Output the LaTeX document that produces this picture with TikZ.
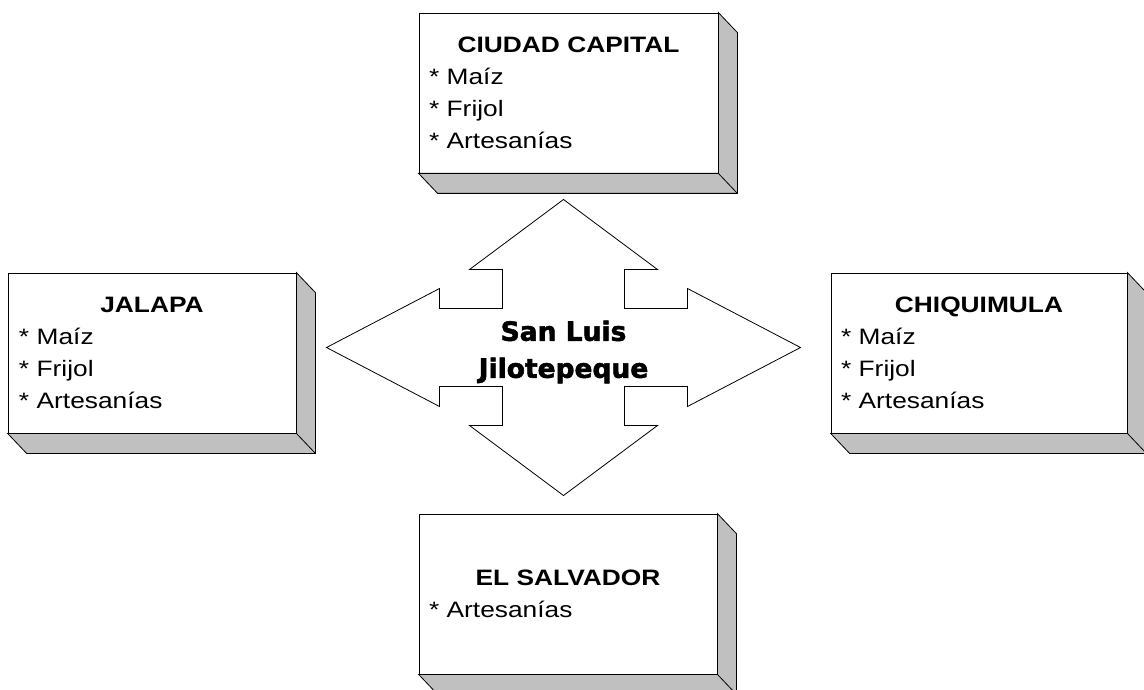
\documentclass[tikz,border=0pt]{standalone}
\usepackage{fontspec}
\setmainfont{Liberation Sans}[FakeStretch=1.18]
\newfontfamily\hubfont{DejaVu Sans}[FakeBold=2]
\usetikzlibrary{positioning}
\definecolor{sidegray}{RGB}{192,192,192}

\tikzset{
  place/.style={draw=black, line width=0.8pt, fill=white, inner sep=0pt,
    minimum height=160pt, align=left, font=\fontsize{22.3}{32}\selectfont},
  side/.style={draw=black, line width=0.8pt, fill=sidegray},
  hubarrow/.style={draw=black, line width=0.8pt, fill=white},
}

% right and bottom faces of a box
\newcommand{\boxsides}[1]{%
  \draw[side] (#1.north east) -- ([shift={(19,20)}]#1.north east)
    -- ([shift={(19,20)}]#1.south east) -- ([shift={(19,20)}]#1.south west)
    -- (#1.south west) -- (#1.south east) -- cycle;
  \draw[side] (#1.south east) -- ([shift={(19,20)}]#1.south east);
}

\begin{document}
\begin{tikzpicture}[x=1pt,y=-1pt]
\useasboundingbox (0,0) rectangle (1144,690);

% places
\node[place, minimum width=299pt, text width=279pt] (capital) at (568.5,93)
  {{\centering\bfseries CIUDAD CAPITAL\par}* Maíz\par * Frijol\par * Artesanías};
\boxsides{capital}
\node[place, minimum width=288pt, text width=266pt] (jalapa) at (152,353)
  {{\centering\bfseries JALAPA\par}* Maíz\par * Frijol\par * Artesanías};
\boxsides{jalapa}
\node[place, minimum width=296pt, text width=276pt] (chiquimula) at (979,353)
  {{\centering\bfseries CHIQUIMULA\par}* Maíz\par * Frijol\par * Artesanías};
\boxsides{chiquimula}
\node[place, minimum width=298pt, text width=278pt] (salvador) at (568,594)
  {{\centering\bfseries EL SALVADOR\par}* Artesanías};
\boxsides{salvador}

% four way arrow
\coordinate (center) at (563.5,347.5);
\draw[hubarrow, shift={(center)}] (0,-148) -- (94,-78) -- (61,-78) -- (61,-39)
  -- (124,-39) -- (124,-59) -- (237,0) -- (124,59) -- (124,39) -- (61,39)
  -- (61,78) -- (94,78) -- (0,148) -- (-94,78) -- (-61,78) -- (-61,39)
  -- (-124,39) -- (-124,59) -- (-237,0) -- (-124,-59) -- (-124,-39)
  -- (-61,-39) -- (-61,-78) -- (-94,-78) -- cycle;
\node[align=center, font=\hubfont\bfseries\fontsize{26.5}{37}\selectfont] (hub)
  at (563.5,352) {San Luis\\Jilotepeque};
\end{tikzpicture}
\end{document}
